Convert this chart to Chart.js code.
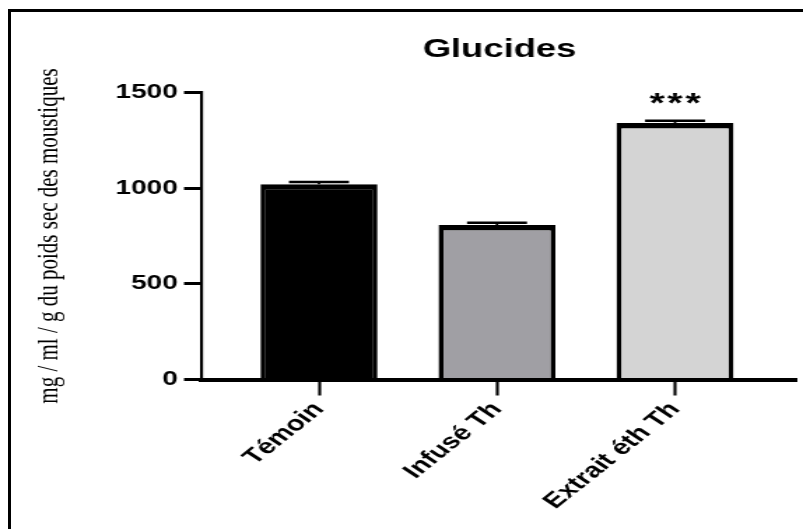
<!DOCTYPE html>
<html>
<head>
<meta charset="utf-8">
<script src="https://cdn.jsdelivr.net/npm/chart.js@4.4.1/dist/chart.umd.min.js"></script>
<style>
  html, body { margin: 0; padding: 0; background: #fff; width: 803px; height: 529px; overflow: hidden; }
  /* the chart is laid out narrow and widened horizontally, like the exported figure */
  #wrap { position: absolute; left: 0; top: 0; width: 574px; height: 529px;
          transform: scaleX(1.39895); transform-origin: 0 0; }
  #frame { position: absolute; left: 8px; top: 9px; right: 0; bottom: 0;
           border-left: 3px solid #000; border-top: 3px solid #000; pointer-events: none; }
</style>
</head>
<body>
<div id="wrap"><canvas id="chart"></canvas></div>
<div id="frame"></div>
<script>
// Carbohydrate content per group (mg / ml / g dry weight)
const categories = ['Témoin', 'Infusé Th', 'Extrait éth Th'];
const means = [1020, 807, 1340];
const sem = [12, 12, 13];
const significance = ['', '', '***'];
const yTicks = [0, 500, 1000, 1500];
const barFills = ['#000000', '#a09fa4', '#d4d4d4'];

const SX = 1.39895;            // horizontal widening of the drawing
const SANS = "'Liberation Sans', Arial, sans-serif";
const SERIF = "'Liberation Serif', 'Times New Roman', serif";

// Upper SEM whisker with cap, plus significance stars
const errorBars = {
  id: 'errorBars',
  afterDatasetsDraw(chart) {
    const meta = chart.getDatasetMeta(0);
    const y = chart.scales.y;
    const ctx = chart.ctx;
    ctx.save();
    ctx.strokeStyle = '#000';
    ctx.fillStyle = '#000';
    meta.data.forEach((bar, i) => {
      const top = y.getPixelForValue(means[i] + sem[i]);
      ctx.lineWidth = 2.5 / SX;
      ctx.beginPath();
      ctx.moveTo(bar.x, bar.y);
      ctx.lineTo(bar.x, top);
      ctx.stroke();
      ctx.lineWidth = 2.5;
      const half = 30 / SX;
      ctx.beginPath();
      ctx.moveTo(bar.x - half, top);
      ctx.lineTo(bar.x + half, top);
      ctx.stroke();
      if (significance[i]) {
        ctx.font = 'bold 28px ' + SANS;
        ctx.letterSpacing = '2px';
        ctx.textAlign = 'center';
        ctx.textBaseline = 'alphabetic';
        ctx.fillText(significance[i], bar.x + 1, top - 9);
      }
    });
    ctx.restore();
  }
};

new Chart(document.getElementById('chart'), {
  type: 'bar',
  data: {
    datasets: [{
      data: means.map((v, i) => ({ x: i, y: v })),
      backgroundColor: barFills,
      borderColor: '#000',
      borderWidth: { top: 5.5, left: 5 / SX, right: 5 / SX, bottom: 0 },
      borderSkipped: 'start',
      barPercentage: 0.657,
      categoryPercentage: 1
    }]
  },
  options: {
    responsive: true,
    maintainAspectRatio: false,
    animation: false,
    layout: { padding: { top: 37, right: 4.3, bottom: 0, left: 0 } },
    plugins: {
      legend: { display: false },
      tooltip: { enabled: false },
      title: {
        display: true,
        text: 'Glucides',
        fullSize: false,
        color: '#000',
        font: { family: SANS, size: 26, weight: 'bold', lineHeight: 1 },
        padding: { top: 0, bottom: 29.5 }
      }
    },
    scales: {
      x: {
        type: 'linear',
        offset: false,
        min: -0.657,
        max: 2.685,
        afterBuildTicks(scale) { scale.ticks = categories.map((_, i) => ({ value: i })); },
        afterFit(scale) { scale.height = 149.5; },
        grid: { display: true, offset: false, drawOnChartArea: false, drawTicks: true,
                tickLength: 16, tickWidth: 3 / SX, tickColor: '#000' },
        border: { display: true, color: '#000', width: 4, z: 1 },
        ticks: {
          autoSkip: false,
          minRotation: 48,
          maxRotation: 48,
          padding: 2,
          color: '#000',
          font: { family: SANS, size: 21, weight: 'bold' },
          callback: (v) => categories[v] ?? ''
        }
      },
      y: {
        min: 0,
        max: 1500,
        afterBuildTicks(scale) { scale.ticks = yTicks.map(v => ({ value: v })); },
        afterFit(scale) { scale.width = 202 / SX; },
        grid: { display: true, drawOnChartArea: false, drawTicks: true,
                tickLength: 18 / SX, tickWidth: 3, tickColor: '#000' },
        border: { display: true, color: '#000', width: 3 / SX, z: 1 },
        ticks: {
          padding: 4.5,
          color: '#000',
          font: { family: SANS, size: 20, weight: 'bold' },
          callback: (v) => String(v)
        },
        title: {
          display: true,
          text: 'mg / ml / g du poids sec des moustiques',
          color: '#000',
          font: { family: SERIF, size: 21, weight: 'normal', lineHeight: 1.2 },
          padding: { top: 23, bottom: 0 }
        }
      }
    }
  },
  plugins: [errorBars]
});
</script>
</body>
</html>
